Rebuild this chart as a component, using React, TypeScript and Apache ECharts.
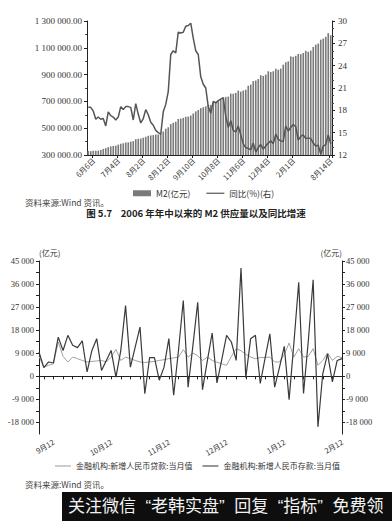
import React, { useEffect, useRef } from 'react';
import * as echarts from 'echarts';

// ---- Chart 1: M2 supply (亿元) and YoY growth (%) ----
const m2Values = [
  330000, 328700, 331900, 331900, 332700, 337500, 345600,
  351500, 358700, 364100, 367300, 369700, 377800, 383900, 387200, 393100, 394200, 399800, 403400,
  417800, 421000, 423000, 429300, 436200, 443100, 446400, 448800, 452900, 453100, 458600, 475200,
  496100, 506700, 530600, 540500, 548300, 568900, 571200, 576700, 585400, 586600, 594600, 610200,
  625600, 636100, 649900, 656600, 663400, 673900, 674100, 687500, 696500, 699800, 710300, 725800,
  733900, 736100, 758100, 757400, 763400, 780800, 772900, 780900, 787400, 816800, 825500, 851600,
  855900, 867200, 895600, 889600, 900000, 924900, 919100, 924900, 943700, 936400, 944900, 974100,
  992100, 998600, 1035900, 1032600, 1040400, 1054400, 1052200, 1061300, 1077400, 1070200, 1079300, 1106500,
  1123500, 1131800, 1160700, 1168800, 1182100, 1209600, 1194100,
];
const yoyValues = [
  18.4, 18.4, 17.9, 16.8, 17.1, 16.8, 16.9,
  15.9, 17.8, 17.3, 17.1, 16.7, 17.1, 18.5, 18.1, 18.5, 18.5, 18.4, 16.7,
  18.9, 17.5, 16.3, 16.9, 18.1, 17.4, 16.4, 16.0, 15.3, 15.0, 14.8, 17.8,
  18.8, 20.5, 25.5, 26.0, 25.7, 28.5, 28.4, 28.5, 29.3, 29.4, 29.7, 27.7,
  26.0, 25.5, 22.5, 21.5, 21.0, 18.5, 17.6, 19.2, 19.0, 19.3, 19.5, 19.7,
  17.2, 15.7, 16.6, 15.3, 15.1, 15.9, 14.7, 13.5, 13.0, 12.9, 12.7, 13.6,
  12.4, 13.0, 13.4, 12.8, 13.2, 13.6, 13.9, 13.5, 14.8, 14.1, 13.9, 13.8,
  15.9, 15.2, 15.7, 16.1, 15.8, 14.0, 14.5, 14.7, 14.2, 14.3, 14.2, 13.6,
  13.2, 13.3, 12.1, 13.2, 13.4, 14.7, 13.5,
];
const topTickIndex = [2, 12, 22, 32, 42, 52, 62, 72, 82, 97];
const topTickLabels = ['6月6日', '7月4日', '8月2日', '8月12日', '9月10日', '10月8日', '11月6日', '12月4日', '2月1日', '8月14日'];

// ---- Chart 2: new RMB loans / deposits, monthly (亿元) ----
const loanValues = [
  7800, 3600, 4300, 4900, 13400, 7800, 5600, 7500, 6900, 6200,
  5600, 5800, 6000, 6200, 5600, 7500, 10500, 6200, 7500, 6900,
  6200, 5600, 5400, 5600, 5800, 6200, 6500, 6900, 7200, 7500,
  10400, 7500, 9100, 8000, 6200, 7500, 6200, 5500, 4900, 4300,
  7800, 10800, 10000, 8600, 7500, 6900, 7300, 7400, 7500, 5600,
  5600, 8500, 13000, 7500, 10800, 7500, 7800, 10800, 4300, 6200,
  9100, 6200, 7800, 7300,
];
const depositValues = [
  9500, 3400, 5600, 5200, 15300, 10100, 16000, 12100, 11200, 13800,
  1700, 10100, 14700, 2300, 6200, 10100, -300, 10000, 27600, 3600,
  11400, 19200, -6800, 7300, 7300, -1500, 3600, 14700, -7400, 10100,
  29600, -4200, 12000, 28900, -5200, 6000, 16900, -2600, 6500, 16000,
  13400, 6200, 42300, -500, 14700, 16000, -2800, 7000, 16600, -4200,
  3500, 11700, -9100, 13000, 36700, -6700, 14000, 37700, -19700, 1000,
  8800, -2200, 6200, 6900,
];
const bottomTickIndex = [3, 15, 27, 39, 51, 63];
const bottomTickLabels = ['9月12', '10月12', '11月12', '12月12', '1月12', '2月12'];
const bottomAxisTicks = [-18000, -9000, 0, 9000, 18000, 27000, 36000, 45000];
const bottomAxisMinorTicks = [-18000, -13500, -9000, -4500, 0, 4500, 9000, 13500, 18000, 22500, 27000, 31500, 36000, 40500, 45000];

const FONT = '"Liberation Serif", "DejaVu Serif", "Noto Sans CJK SC", serif';
const CJK = '"Noto Sans CJK SC", "Liberation Serif", serif';
const LINE_ICON = 'path://M0,0L18,0L18,1.2L0,1.2Z';

function spaced(n: number): string {
  const s = Math.abs(Math.round(n)).toString().replace(/\B(?=(\d{3})+(?!\d))/g, ' ');
  return (n < 0 ? '-' : '') + s;
}

export default function App() {
  const ref = useRef<HTMLDivElement>(null);
  useEffect(() => {
    const chart = echarts.init(ref.current!, null, { renderer: 'svg' });
    const topCats = m2Values.map((_, i) => String(i));
    const bottomCats = depositValues.map((_, i) => String(i));
    const axisLine = { show: true, lineStyle: { color: '#222', width: 1 } };
    const labelStyle = { color: '#333', fontFamily: FONT, fontSize: 8.5 };

    const option: any = {
      animation: false,
      backgroundColor: '#fff',
      grid: [
        { left: 87, top: 21, width: 245, height: 134 },
        { left: 39, top: 261, width: 303, height: 173 },
      ],
      legend: [
        {
          data: [
            { name: 'M2(亿元)', icon: 'rect' },
            { name: '同比(%)(右)', icon: LINE_ICON },
          ],
          left: 128, top: 184, itemWidth: 18, itemHeight: 6, itemGap: 16,
          symbolKeepAspect: true,
          textStyle: { fontFamily: CJK, fontSize: 8.5, color: '#333' },
        },
        {
          data: [
            { name: '金融机构:新增人民币贷款:当月值', icon: LINE_ICON },
            { name: '金融机构:新增人民币存款:当月值', icon: LINE_ICON },
          ],
          left: 50, top: 457, itemWidth: 16, itemHeight: 6, itemGap: 10,
          symbolKeepAspect: true,
          textStyle: { fontFamily: CJK, fontSize: 8, color: '#333' },
        },
      ],
      xAxis: [
        {
          type: 'category', gridIndex: 0, data: topCats, boundaryGap: true,
          axisLine,
          axisTick: { show: true, interval: (i: number) => topTickIndex.includes(i), length: 3, lineStyle: { color: '#222' } },
          axisLabel: {
            ...labelStyle, fontFamily: CJK, fontSize: 7.5, rotate: 45, margin: 4,
            interval: (i: number) => topTickIndex.includes(i),
            formatter: (_v: string, i: number) => { const k = topTickIndex.indexOf(i); return k >= 0 ? topTickLabels[k] : ''; },
          },
        },
        {
          type: 'category', gridIndex: 1, data: bottomCats, boundaryGap: false,
          axisLine,
          axisTick: { show: true, interval: (i: number) => i % 2 === 1, length: 3, lineStyle: { color: '#222' } },
          axisLabel: {
            ...labelStyle, fontFamily: CJK, fontSize: 7.5, rotate: 30, margin: 7,
            interval: (i: number) => bottomTickIndex.includes(i),
            formatter: (_v: string, i: number) => { const k = bottomTickIndex.indexOf(i); return k >= 0 ? bottomTickLabels[k] : ''; },
          },
        },
      ],
      yAxis: [
        {
          type: 'value', gridIndex: 0, min: 300000, max: 1300000, interval: 200000,
          axisLine, splitLine: { show: false },
          axisTick: { show: true, length: 3, lineStyle: { color: '#222' } },
          minorTick: { show: true, splitNumber: 2, length: 2, lineStyle: { color: '#444' } },
          axisLabel: { ...labelStyle, fontSize: 9, margin: 5, formatter: (v: number) => spaced(v) + '.00' },
        },
        {
          type: 'value', gridIndex: 0, position: 'right', min: 12, max: 30, interval: 3,
          axisLine, splitLine: { show: false },
          axisTick: { show: true, length: 3, lineStyle: { color: '#222' } },
          minorTick: { show: true, splitNumber: 3, length: 2, lineStyle: { color: '#444' } },
          axisLabel: { ...labelStyle, fontSize: 9, margin: 6 },
        },
        {
          type: 'value', gridIndex: 1, min: -22500, max: 45000,
          name: '(亿元)', nameLocation: 'end', nameGap: 4,
          nameTextStyle: { fontFamily: CJK, fontSize: 8, color: '#333', align: 'left' },
          axisLine, splitLine: { show: false },
          axisTick: { show: true, length: 3, customValues: bottomAxisMinorTicks, lineStyle: { color: '#222' } },
          axisLabel: { ...labelStyle, margin: 5, customValues: bottomAxisTicks, formatter: (v: number) => spaced(v) },
        },
        {
          type: 'value', gridIndex: 1, position: 'right', min: -22500, max: 45000,
          name: '(亿元)', nameLocation: 'end', nameGap: 4,
          nameTextStyle: { fontFamily: CJK, fontSize: 8, color: '#333', align: 'right' },
          axisLine, splitLine: { show: false },
          axisTick: { show: true, length: 3, customValues: bottomAxisMinorTicks, lineStyle: { color: '#222' } },
          axisLabel: { ...labelStyle, margin: 4, customValues: bottomAxisTicks, formatter: (v: number) => spaced(v) },
        },
      ],
      series: [
        {
          name: 'M2(亿元)', type: 'bar', xAxisIndex: 0, yAxisIndex: 0, data: m2Values,
          barCategoryGap: '35%', itemStyle: { color: '#7a7a7a' },
        },
        {
          name: '同比(%)(右)', type: 'line', xAxisIndex: 0, yAxisIndex: 1, data: yoyValues,
          symbol: 'none', lineStyle: { color: '#555', width: 1.5 }, itemStyle: { color: '#555' },
        },
        {
          name: '金融机构:新增人民币贷款:当月值', type: 'line', xAxisIndex: 1, yAxisIndex: 2, data: loanValues,
          symbol: 'none', lineStyle: { color: '#a0a0a0', width: 1 }, itemStyle: { color: '#a0a0a0' },
        },
        {
          name: '金融机构:新增人民币存款:当月值', type: 'line', xAxisIndex: 1, yAxisIndex: 2, data: depositValues,
          symbol: 'none', lineStyle: { color: '#3a3a3a', width: 1.2 }, itemStyle: { color: '#3a3a3a' },
        },
      ],
      graphic: [
        { type: 'text', left: 25, top: 198, style: { text: '资料来源:Wind 资讯。', fontFamily: CJK, fontSize: 8.5, fill: '#444' } },
        { type: 'text', left: 'center', top: 208, style: { text: '图 5.7    2006 年年中以来的 M2 供应量以及同比增速', fontFamily: CJK, fontSize: 9.5, fontWeight: 'bold', fill: '#222' } },
        { type: 'text', left: 25, top: 480, style: { text: '资料来源:Wind 资讯。', fontFamily: CJK, fontSize: 8.5, fill: '#444' } },
        { type: 'rect', shape: { x: 62, y: 492, width: 330, height: 29 }, style: { fill: '#0e0e0e' } },
        { type: 'text', x: 68, y: 506, style: { text: '关注微信  “老韩实盘”  回复  “指标”  免费领', fontFamily: '"Liberation Sans", "Noto Sans CJK SC", sans-serif', fontSize: 17, fill: '#f2f2f2', verticalAlign: 'middle' } },
      ],
    };
    chart.setOption(option);
    return () => chart.dispose();
  }, []);
  return <div ref={ref} style={{ position: 'fixed', left: 0, top: 0, width: 392, height: 521, background: '#fff' }} />;
}
